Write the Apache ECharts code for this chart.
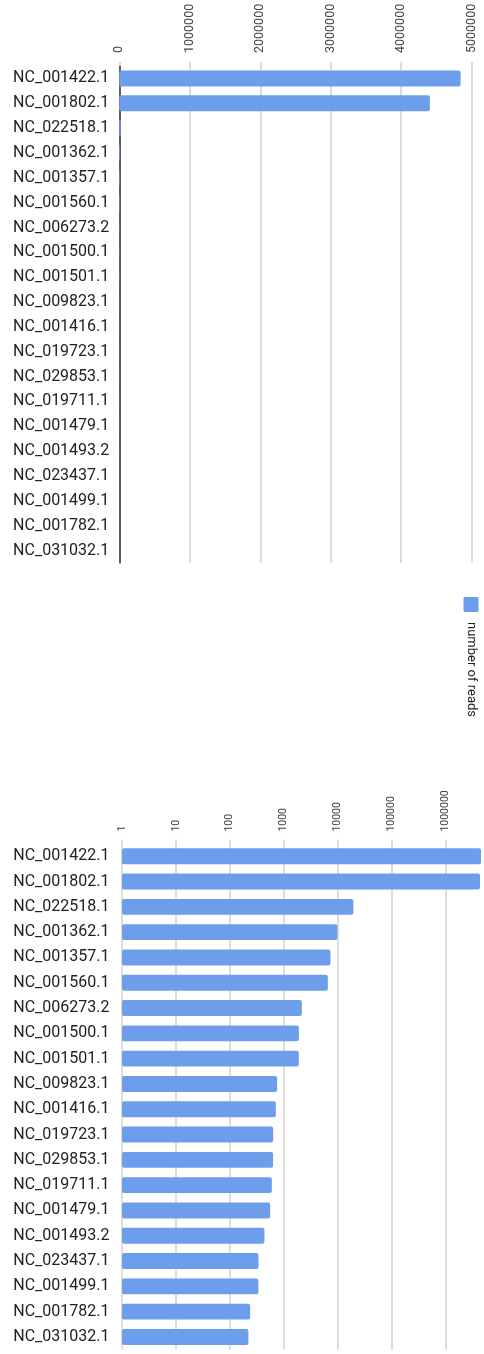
<!DOCTYPE html>
<html>
<head>
<meta charset="utf-8">
<title>number of reads</title>
<script src="https://cdn.jsdelivr.net/npm/echarts@6/dist/echarts.min.js"></script>
<style>
  html, body { margin: 0; padding: 0; background: #ffffff; }
  #chart { width: 484px; height: 1354px; }
</style>
</head>
<body>
<div id="chart"></div>
<script>
// Reference sequences, in the order they are listed
const accessions = [
  'NC_001422.1', 'NC_001802.1', 'NC_022518.1', 'NC_001362.1', 'NC_001357.1',
  'NC_001560.1', 'NC_006273.2', 'NC_001500.1', 'NC_001501.1', 'NC_009823.1',
  'NC_001416.1', 'NC_019723.1', 'NC_029853.1', 'NC_019711.1', 'NC_001479.1',
  'NC_001493.2', 'NC_023437.1', 'NC_001499.1', 'NC_001782.1', 'NC_031032.1'
];

// Reads mapped to each sequence
const readCounts = [
  4843000, 4407000, 19700, 9950, 7390,
  6610, 2175, 1915, 1910, 757,
  717, 639, 637, 604, 562,
  440, 341, 340, 239, 222
];

// Tick values of the linear panel and of the logarithmic panel
const linearTicks = [0, 1000000, 2000000, 3000000, 4000000, 5000000];
const logTicks = [1, 10, 100, 1000, 10000, 100000, 1000000];
const logAxisMax = 4600000;

const seriesName = 'number of reads';
const barColor = '#6d9eeb';
const gridColor = '#d2d2d2';
const labelFont = 'Roboto, "Noto Sans", sans-serif';

// Plain integers, no digit grouping
const plainNumber = (v) => String(Math.round(v));

const chart = echarts.init(document.getElementById('chart'), null, { renderer: 'canvas' });

const categoryAxis = (gridIndex, margin, lineShow) => ({
  type: 'category',
  gridIndex: gridIndex,
  data: accessions,
  inverse: true,
  axisTick: { show: false },
  axisLine: { show: lineShow, lineStyle: { color: '#333333', width: 1.5 } },
  axisLabel: {
    color: '#222222',
    fontFamily: labelFont,
    fontSize: 16,
    margin: margin,
    interval: 0
  },
  splitLine: { show: false }
});

const barStyle = {
  color: barColor,
  borderRadius: 2
};

chart.setOption({
  animation: false,
  backgroundColor: '#ffffff',
  grid: [
    { left: 119.3, top: 66, width: 352.4, height: 497, containLabel: false, outerBoundsMode: 'none' },
    { left: 122, top: 843.6, width: 359, height: 506, containLabel: false, outerBoundsMode: 'none' }
  ],
  xAxis: [
    {
      type: 'value',
      gridIndex: 0,
      position: 'top',
      min: linearTicks[0],
      max: linearTicks[linearTicks.length - 1],
      interval: linearTicks[1] - linearTicks[0],
      axisLine: { show: false },
      axisTick: { show: true, length: 4, lineStyle: { color: gridColor, width: 1.5 } },
      axisLabel: {
        rotate: -90,
        color: '#444444',
        fontFamily: labelFont,
        fontSize: 12.5,
        margin: 13,
        hideOverlap: false,
        formatter: plainNumber
      },
      splitLine: { show: true, lineStyle: { color: gridColor, width: 1.5 } }
    },
    {
      type: 'log',
      logBase: 10,
      gridIndex: 1,
      position: 'top',
      min: logTicks[0],
      max: logAxisMax,
      axisLine: { show: false },
      axisTick: {
        show: true, length: 4, customValues: logTicks,
        lineStyle: { color: gridColor, width: 1.5 }
      },
      axisLabel: {
        rotate: -90,
        color: '#444444',
        fontFamily: labelFont,
        fontSize: 10.5,
        margin: 12,
        customValues: logTicks,
        hideOverlap: false,
        formatter: plainNumber
      },
      splitLine: {
        show: true,
        lineStyle: { color: gridColor, width: 1.5 }
      }
    }
  ],
  yAxis: [
    categoryAxis(0, 10, true),
    categoryAxis(1, 12.5, false)
  ],
  series: [
    {
      name: seriesName,
      type: 'bar',
      xAxisIndex: 0,
      yAxisIndex: 0,
      data: readCounts,
      barCategoryGap: '36%',
      itemStyle: barStyle
    },
    {
      name: seriesName,
      type: 'bar',
      xAxisIndex: 1,
      yAxisIndex: 1,
      data: readCounts,
      barCategoryGap: '37%',
      clip: true,
      itemStyle: barStyle
    }
  ],
  graphic: [
    {
      type: 'rect',
      shape: { x: 463.5, y: 597, width: 15, height: 15, r: 1.5 },
      style: { fill: barColor }
    },
    {
      type: 'text',
      x: 471,
      y: 622,
      rotation: -Math.PI / 2,
      style: {
        text: seriesName,
        fill: '#222222',
        font: '13px ' + labelFont,
        align: 'left',
        verticalAlign: 'middle'
      }
    }
  ]
});
</script>
</body>
</html>
